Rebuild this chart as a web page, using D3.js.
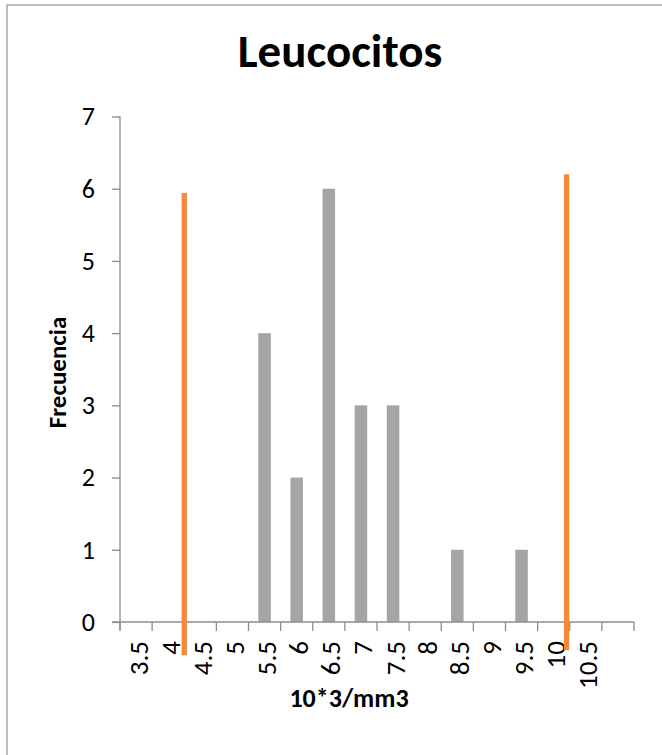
<!DOCTYPE html>
<html><head><meta charset="utf-8">
<script src="https://cdn.jsdelivr.net/npm/d3@7"></script>
<style>
html,body{margin:0;padding:0;background:#fff;}
svg text{font-family:Carlito, Lato, "Liberation Sans", sans-serif;fill:#000;}
</style></head>
<body>
<svg id="chart" width="662" height="755"></svg>
<script>
// ---- data ----
const categories = ["3.5","4","4.5","5","5.5","6","6.5","7","7.5","8","8.5","9","9.5","10","10.5",""];
const frecuencia = [0,0,0,0,4,2,6,3,3,0,1,0,1,0,0,0];
const yTicks = [0,1,2,3,4,5,6,7];
// orange reference lines (x in 10*3/mm3 units, y in frequency units)
const refX = [4.25, 10.2];
const refTop = [5.94, 6.2];
const refBottom = [-0.46, -0.39];
const title = "Leucocitos";
const xTitle = "10*3/mm3";
const yTitle = "Frecuencia";

// ---- layout ----
const svg = d3.select("#chart");
const plot = {left:120, right:634, top:116.5, bottom:622};
const axisColor = "#8c8c8c";

// chart border (left/top visible)
svg.append("rect").attr("x",7).attr("y",5).attr("width",720).attr("height",820)
  .attr("fill","none").attr("stroke","#a6a6a6").attr("stroke-width",1.5);

const x = d3.scaleBand().domain(categories.map((c,i)=>i)).range([plot.left, plot.right]).padding(0);
const xLin = d3.scaleLinear().domain([3.25, 3.25 + categories.length*0.5]).range([plot.left, plot.right]);
const y = d3.scaleLinear().domain([0,7]).range([plot.bottom, plot.top]);

// title
svg.append("text").attr("x",340).attr("y",67).attr("text-anchor","middle")
  .style("font-size","47px").style("font-weight","bold").text(title);

// bars
const bw = x.bandwidth()*0.39;
svg.append("g").selectAll("rect").data(frecuencia.map((v,i)=>({v,i})).filter(d=>d.v>0))
  .join("rect")
  .attr("x", d=> x(d.i) + x.bandwidth()/2 - bw/2)
  .attr("y", d=> y(d.v))
  .attr("width", bw)
  .attr("height", d=> y(0)-y(d.v))
  .attr("fill","#a5a5a5");

// y axis
const yAxis = svg.append("g").attr("transform",`translate(${plot.left},0)`)
  .call(d3.axisLeft(y).tickValues(yTicks).tickSize(8).tickPadding(17).tickFormat(d3.format("d")));
yAxis.selectAll("path,line").attr("stroke",axisColor).attr("stroke-width",1.3);
yAxis.select(".domain").attr("d",`M0,${plot.top}V${plot.bottom+8}`);
yAxis.selectAll("text").style("font-size","26px").style("font-family","Carlito, Lato, sans-serif").attr("fill","#000");

// x axis: line and ticks at band boundaries
const xg = svg.append("g");
xg.append("line").attr("x1",plot.left-8).attr("x2",plot.right).attr("y1",plot.bottom).attr("y2",plot.bottom)
  .attr("stroke",axisColor).attr("stroke-width",1.3);
const bounds = d3.range(categories.length+1).map(k=> plot.left + k*x.step());
xg.selectAll("line.t").data(bounds).join("line").attr("class","t")
  .attr("x1",d=>d).attr("x2",d=>d).attr("y1",plot.bottom).attr("y2",plot.bottom+9)
  .attr("stroke",axisColor).attr("stroke-width",1.3);
xg.selectAll("text").data(categories.map((c,i)=>({c,i})).filter(d=>d.c!==""))
  .join("text")
  .attr("transform", d=>`translate(${x(d.i)+x.bandwidth()/2+2},${plot.bottom+19}) rotate(-90)`)
  .attr("text-anchor","end").attr("dy","0.35em")
  .style("font-size","27px").text(d=>d.c);

// orange reference lines
svg.append("g").selectAll("line").data(refX.map((v,i)=>({v,t:refTop[i],b:refBottom[i]})))
  .join("line")
  .attr("x1",d=>xLin(d.v)).attr("x2",d=>xLin(d.v))
  .attr("y1",d=>y(d.t)).attr("y2",d=>y(d.b))
  .attr("stroke","#f7893a").attr("stroke-width",5.3);

// axis titles
svg.append("text").attr("x",349).attr("y",707).attr("text-anchor","middle")
  .style("font-size","26px").style("font-weight","bold").text(xTitle);
svg.append("text").attr("transform","translate(66,372.5) rotate(-90)").attr("text-anchor","middle")
  .style("font-size","25px").style("font-weight","bold").text(yTitle);
</script>
</body></html>
